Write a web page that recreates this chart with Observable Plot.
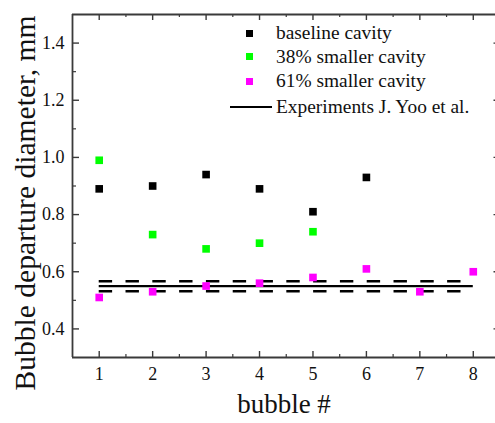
<!DOCTYPE html>
<html>
<head>
<meta charset="utf-8">
<script src="https://cdn.jsdelivr.net/npm/d3@7"></script>
<script src="https://cdn.jsdelivr.net/npm/@observablehq/plot@0.6"></script>
<style>
  html, body { margin: 0; padding: 0; background: #fff; }
  #wrap { position: relative; width: 495px; height: 423px; font-family: "Liberation Serif", "Times New Roman", serif; }
  #wrap svg { position: absolute; left: 0; top: 0; }
  .leg { position: absolute; font-size: 19.4px; line-height: 22px; color: #111; white-space: nowrap; }
  .sq { position: absolute; width: 7px; height: 7px; }
  .ln { position: absolute; height: 2.5px; background: #000; }
</style>
</head>
<body>
<div id="wrap"></div>
<script>
// ---- data ----
const bubbles = [1, 2, 3, 4, 5, 6, 7, 8];
const baseline = [0.89, 0.90, 0.94, 0.89, 0.81, 0.93];
const smaller38 = [0.99, 0.73, 0.68, 0.70, 0.74];
const smaller61 = [0.51, 0.53, 0.55, 0.56, 0.58, 0.61, 0.53, 0.60];
const expMean = [0.55];
const expBand = [0.532, 0.567];
const expRange = [1, 8];
const seriesNames = ["baseline cavity", "38% smaller cavity", "61% smaller cavity", "Experiments J. Yoo et al."];
const seriesColors = ["#000000", "#00ff00", "#ff00ff", "#000000"];
const xDomain = [0.5, 8.5];
const yDomain = [0.3, 1.5];
const xTicks = [1, 2, 3, 4, 5, 6, 7, 8];
const xMinor = [1.5, 2.5, 3.5, 4.5, 5.5, 6.5, 7.5];
const yTicks = [0.4, 0.6, 0.8, 1.0, 1.2, 1.4];
const yMinor = [0.5, 0.7, 0.9, 1.1, 1.3];

const points = [
  ...baseline.map((v, i) => ({x: bubbles[i], y: v, s: 0})),
  ...smaller38.map((v, i) => ({x: bubbles[i], y: v, s: 1})),
  ...smaller61.map((v, i) => ({x: bubbles[i], y: v, s: 2}))
];

const W = 495, H = 423, mL = 72, mT = 14, mB = 66, mR = 0;
const fw = W - mL - mR, fh = H - mT - mB;
const axisColor = "#3a3a3a";

const chart = Plot.plot({
  width: W, height: H,
  marginLeft: mL, marginTop: mT, marginBottom: mB, marginRight: mR,
  style: {fontFamily: "Liberation Serif, Times New Roman, serif", background: "white", color: "#111"},
  x: {domain: xDomain, range: [mL, 499.5]},
  y: {domain: yDomain},
  marks: [
    // frame lines
    Plot.ruleX([xDomain[0]], {x: d => d, stroke: axisColor, strokeWidth: 1.8}),
    Plot.ruleY([yDomain[1]], {y: d => d, stroke: axisColor, strokeWidth: 1.8}),
    Plot.ruleY([yDomain[0]], {y: d => d, stroke: axisColor, strokeWidth: 1.8}),
    // ticks (inward)
    Plot.tickY(yTicks, {y: d => d, insetRight: fw - 7, stroke: axisColor, strokeWidth: 1.4}),
    Plot.tickY(yMinor, {y: d => d, insetRight: fw - 4, stroke: axisColor, strokeWidth: 1.2}),
    Plot.tickY(yTicks, {y: d => d, insetLeft: fw - 1.5, stroke: axisColor, strokeWidth: 1.4}),
    Plot.tickX(xTicks, {x: d => d, insetTop: fh - 6, stroke: axisColor, strokeWidth: 1.4}),
    Plot.tickX(xMinor, {x: d => d, insetTop: fh - 3, stroke: axisColor, strokeWidth: 1.2}),
    Plot.tickX(xTicks, {x: d => d, insetBottom: fh - 6, stroke: axisColor, strokeWidth: 1.4}),
    Plot.tickX(xMinor, {x: d => d, insetBottom: fh - 3, stroke: axisColor, strokeWidth: 1.2}),
    // tick labels
    Plot.axisY({ticks: yTicks, tickSize: 0, tickPadding: 8, fontSize: 18, label: null, tickFormat: d3.format(".1f")}),
    Plot.axisX({ticks: xTicks, tickSize: 0, tickPadding: 10, fontSize: 18, label: null}),
    // axis titles
    Plot.text(["Bubble departure diameter, mm"], {text: d => d, frameAnchor: "left", textAnchor: "middle", rotate: -90, dx: -47, dy: 17, fontSize: 29.6, fill: "#111"}),
    Plot.text(["bubble #"], {text: d => d, frameAnchor: "bottom", dy: 55, fontSize: 27, fill: "#111"}),
    // experiment lines
    Plot.ruleY(expBand, {y: d => d, x1: expRange[0], x2: expRange[1], stroke: "#000", strokeWidth: 2.5, strokeDasharray: "13.4,13.4"}),
    Plot.ruleY(expMean, {y: d => d, x1: expRange[0], x2: expRange[1], stroke: "#000", strokeWidth: 2.2}),
    // points
    Plot.dot(points, {x: "x", y: "y", fill: d => seriesColors[d.s], symbol: "square", r: 4.3})
  ]
});

const wrap = document.getElementById("wrap");
wrap.appendChild(chart);

// legend
const legRows = [33.3, 56.8, 81, 107];
seriesNames.forEach((name, i) => {
  if (i < 3) {
    const sq = document.createElement("div");
    sq.className = "sq";
    sq.style.background = seriesColors[i];
    sq.style.left = (249 - 3.5) + "px";
    sq.style.top = (legRows[i] - 3.5) + "px";
    wrap.appendChild(sq);
  } else {
    const ln = document.createElement("div");
    ln.className = "ln";
    ln.style.left = "230px";
    ln.style.width = "42px";
    ln.style.top = (legRows[i] - 1.25) + "px";
    wrap.appendChild(ln);
  }
  const t = document.createElement("div");
  t.className = "leg";
  t.textContent = name;
  t.style.left = "276px";
  t.style.top = (legRows[i] - 11) + "px";
  wrap.appendChild(t);
});
</script>
</body>
</html>
